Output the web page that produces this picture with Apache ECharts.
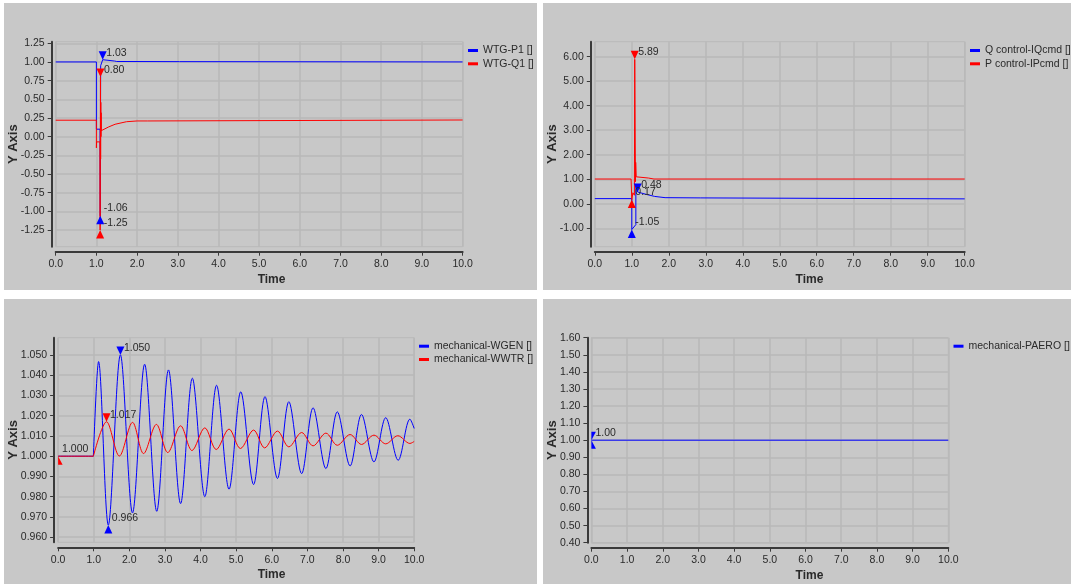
<!DOCTYPE html>
<html>
<head>
<meta charset="utf-8">
<script src="https://cdn.jsdelivr.net/npm/echarts@6/dist/echarts.min.js"></script>
<style>
html,body{margin:0;padding:0;background:#ffffff;}
#c{width:1071px;height:585px;}
</style>
</head>
<body>
<div id="c"></div>
<script>
// ---------------- DATA ----------------
// Panel 1
const p1Names = ['WTG-P1 []', 'WTG-Q1 []'];
const p1P1Time = [0, 1.0, 1.0, 1.09, 1.095, 1.105, 1.155, 1.2, 1.45, 1.5, 3.04, 3.06, 10];
const p1P1Val  = [1.0, 1.0, 0.10, 0.10, -1.06, 0.95, 1.03, 1.017, 1.012, 1.006, 1.004, 1.0, 1.0];
const p1Q1Time = [0, 1.0, 1.0, 1.005, 1.088, 1.092, 1.10, 1.104, 1.108, 1.112, 1.116, 1.12, 1.16, 1.3, 1.46, 1.74, 2.0, 2.25, 2.27, 10];
const p1Q1Val  = [0.22, 0.22, -0.15, -0.07, -0.07, -1.25, 0.80, -0.3, 0.46, 0.0, 0.32, 0.08, 0.09, 0.13, 0.166, 0.20, 0.21, 0.21, 0.223, 0.223];
const p1P1Max = [1.155, 1.03];
const p1P1Min = [1.095, -1.06];
const p1Q1Max = [1.10, 0.80];
const p1Q1Min = [1.092, -1.25];
const p1YTicks = [-1.25, -1.0, -0.75, -0.5, -0.25, 0, 0.25, 0.5, 0.75, 1.0, 1.25];

// Panel 2
const p2Names = ['Q control-IQcmd []', 'P control-IPcmd []'];
const p2IQTime = [0, 1.0, 1.0, 1.11, 1.11, 1.13, 1.16, 1.2, 1.4, 1.62, 1.9, 2.85, 2.87, 10];
const p2IQVal  = [0.21, 0.21, -1.05, -0.85, 0.78, 0.78, 0.48, 0.47, 0.38, 0.30, 0.25, 0.24, 0.20, 0.20];
const p2IPTime = [0, 0.98, 1.0, 1.03, 1.07, 1.08, 1.10, 1.105, 1.12, 1.13, 1.15, 1.45, 1.6, 10];
const p2IPVal  = [1.01, 1.01, 0.17, 0.45, 0.35, 5.89, 0.9, 1.69, 1.1, 1.12, 1.06, 1.05, 1.01, 1.01];
const p2IQMax = [1.16, 0.48];
const p2IQMin = [1.0, -1.05];
const p2IPMax = [1.08, 5.89];
const p2IPMin = [1.0, 0.17];
const p2YTicks = [-1, 0, 1, 2, 3, 4, 5, 6];

// Panel 3
const p3Names = ['mechanical-WGEN []', 'mechanical-WWTR []'];
const p3GenTime = [0, 0.99, 1.0, 1.137, 1.41, 1.75, 2.09, 2.43, 2.77, 3.10, 3.44, 3.77, 4.12, 4.45, 4.80, 5.13, 5.49, 5.81, 6.16, 6.48, 6.84, 7.16, 7.52, 7.84, 8.20, 8.52, 8.87, 9.20, 9.55, 9.88, 10.0];
const p3GenVal  = [1.0, 1.0, 1.0, 1.0467, 0.966, 1.050, 0.972, 1.0454, 0.9728, 1.0426, 0.9766, 1.0385, 0.980, 1.035, 0.9837, 1.0318, 0.986, 1.0294, 0.989, 1.0269, 0.9914, 1.0239, 0.9939, 1.0219, 0.9952, 1.0206, 0.9972, 1.019, 0.998, 1.0183, 1.0137];
const p3WtrTime = [0, 0.99, 1.0, 1.36, 1.72, 2.09, 2.40, 2.76, 3.08, 3.44, 3.76, 4.12, 4.44, 4.80, 5.12, 5.49, 5.80, 6.16, 6.48, 6.84, 7.16, 7.52, 7.84, 8.20, 8.52, 8.87, 9.20, 9.54, 9.88, 10.0];
const p3WtrVal  = [1.0, 1.0, 1.0, 1.017, 1.0001, 1.0167, 1.0013, 1.0157, 1.0018, 1.015, 1.0028, 1.014, 1.0033, 1.0134, 1.0038, 1.0129, 1.0041, 1.0124, 1.0046, 1.0117, 1.0051, 1.0114, 1.0054, 1.0107, 1.0058, 1.0104, 1.0061, 1.0101, 1.0063, 1.0073];
const p3GenMax = [1.75, 1.050];
const p3GenMin = [1.41, 0.966];
const p3WtrMax = [1.36, 1.017];
const p3WtrMin = [0, 1.000];
const p3YTicks = [0.96, 0.97, 0.98, 0.99, 1.0, 1.01, 1.02, 1.03, 1.04, 1.05];

// Panel 4
const p4Names = ['mechanical-PAERO []'];
const p4Time = [0, 10];
const p4Val  = [1.0, 1.0];
const p4Max = [0, 1.00];
const p4Min = [0, 1.00];
const p4YTicks = [0.4, 0.5, 0.6, 0.7, 0.8, 0.9, 1.0, 1.1, 1.2, 1.3, 1.4, 1.5, 1.6];

// ---------------- STYLE ----------------
const FONT = "'Liberation Sans', Arial, sans-serif";
const BLUE = '#0000ff', RED = '#ff0000';
const PANEL_BG = '#c8c8c8', GRID_C = '#b9b9b9', AXIS_C = '#3a3a3a', TXT = '#2a2a2a';
const TICK_FS = 10.5;

const panels = [
  {x: 4, y: 3, w: 533, h: 287},
  {x: 543, y: 3, w: 528, h: 287},
  {x: 4, y: 299, w: 533, h: 285},
  {x: 543, y: 299, w: 528, h: 285}
];
const grids = [
  {left: 55.7, top: 41.7, width: 406.9, height: 205},
  {left: 594.8, top: 41.7, width: 369.9, height: 205},
  {left: 58.1, top: 337.7, width: 356.1, height: 204.6},
  {left: 591.4, top: 337.7, width: 356.9, height: 205}
];
const yRanges = [[-1.473, 1.271], [-1.75, 6.61], [0.9575, 1.0585], [0.4, 1.6]];
const yTicksAll = [p1YTicks, p2YTicks, p3YTicks, p4YTicks];
const yDec = [2, 2, 3, 2];
const yNameGap = [32, 31.4, 34.5, 28.7];
const timeShift = [12.4, 29.7, 35.4, 39.6];
const legendPos = [{left: 468, top: 45}, {left: 970, top: 45}, {left: 419, top: 340.7}, {left: 953.5, top: 340.7}];
const legendNames = [p1Names, p2Names, p3Names, p4Names];

function pairs(ts, vs) { return ts.map((t, i) => [t, vs[i]]); }

const DOWN = 'path://M0,0L2,0L1,2Z';
const DOWN_HALF = 'path://M0,0L1,0L0,2Z';
const UP_HALF = 'path://M0,0L1,2L0,2Z';

function mark(pt, kind, dec, color, half, showLabel) {
  const down = kind === 'max';
  let symbol, size, off;
  if (half) {
    symbol = down ? DOWN_HALF : UP_HALF;
    size = [4.5, 8.5];
    off = [2.25, down ? -4.25 : 4.25];
  } else {
    symbol = down ? DOWN : 'triangle';
    size = [8, 8.5];
    off = [0, down ? -4.25 : 4.25];
  }
  return {
    coord: [pt[0], pt[1]],
    value: pt[1].toFixed(dec),
    symbol: symbol,
    symbolSize: size,
    symbolOffset: off,
    itemStyle: {color: color},
    label: {
      show: showLabel !== false,
      position: 'right',
      distance: 0,
      offset: [-0.5, down ? -2.5 : -11.5],
      formatter: '{c}',
      fontFamily: FONT, fontSize: TICK_FS, color: TXT
    }
  };
}

function lineSeries(name, idx, ts, vs, color, marks, smooth) {
  return {
    type: 'line', name: name, xAxisIndex: idx, yAxisIndex: idx,
    data: pairs(ts, vs),
    showSymbol: false, symbol: 'none',
    smooth: smooth || false,
    lineStyle: {width: 1, color: color},
    itemStyle: {color: color},
    emphasis: {disabled: true},
    animation: false,
    markPoint: {animation: false, data: marks}
  };
}

const series = [
  lineSeries(p1Names[0], 0, p1P1Time, p1P1Val, BLUE, [mark(p1P1Max, 'max', 2, BLUE), mark(p1P1Min, 'min', 2, BLUE)]),
  lineSeries(p1Names[1], 0, p1Q1Time, p1Q1Val, RED, [mark(p1Q1Max, 'max', 2, RED), mark(p1Q1Min, 'min', 2, RED)]),
  lineSeries(p2Names[0], 1, p2IQTime, p2IQVal, BLUE, [mark(p2IQMax, 'max', 2, BLUE), mark(p2IQMin, 'min', 2, BLUE)]),
  lineSeries(p2Names[1], 1, p2IPTime, p2IPVal, RED, [mark(p2IPMax, 'max', 2, RED), mark(p2IPMin, 'min', 2, RED)]),
  lineSeries(p3Names[0], 2, p3GenTime, p3GenVal, BLUE, [mark(p3GenMax, 'max', 3, BLUE), mark(p3GenMin, 'min', 3, BLUE)], 0.33),
  lineSeries(p3Names[1], 2, p3WtrTime, p3WtrVal, RED, [mark(p3WtrMax, 'max', 3, RED), mark(p3WtrMin, 'min', 3, RED, true)], 0.33),
  lineSeries(p4Names[0], 3, p4Time, p4Val, BLUE, [mark(p4Max, 'max', 2, BLUE, true), mark(p4Min, 'min', 2, BLUE, true, false)])
];

const xAxes = [], yAxes = [], gridOpts = [], legends = [];
for (let i = 0; i < 4; i++) {
  gridOpts.push(Object.assign({show: true, borderWidth: 1, borderColor: GRID_C, backgroundColor: 'transparent', containLabel: false, outerBoundsMode: 'none'}, grids[i]));
  xAxes.push({
    type: 'value', gridIndex: i, min: 0, max: 10, interval: 1, offset: 5,
    axisLine: {show: true, onZero: false, lineStyle: {color: AXIS_C, width: 2}},
    axisTick: {show: true, length: 4, lineStyle: {color: AXIS_C, width: 1}},
    axisLabel: {show: true, margin: 7, fontFamily: FONT, fontSize: TICK_FS, color: TXT, formatter: v => v.toFixed(1)},
    splitLine: {show: true, lineStyle: {color: GRID_C, width: 1.5}},
    name: 'Time', nameLocation: 'middle', nameGap: 21.5, nameMoveOverlap: false,
    nameTextStyle: {fontFamily: FONT, fontSize: 12, fontWeight: 'bold', color: TXT, padding: [0, 0, 0, timeShift[i] * 2]}
  });
  yAxes.push({
    type: 'value', gridIndex: i, min: yRanges[i][0], max: yRanges[i][1], offset: 4,
    axisLine: {show: true, onZero: false, lineStyle: {color: AXIS_C, width: 2}},
    axisTick: {show: true, length: 4, customValues: yTicksAll[i], lineStyle: {color: AXIS_C, width: 1}},
    axisLabel: {show: true, margin: 7, customValues: yTicksAll[i], fontFamily: FONT, fontSize: TICK_FS, color: TXT,
      formatter: (function (d) { return v => Number(v).toFixed(d); })(yDec[i])},
    splitLine: {show: true, lineStyle: {color: GRID_C, width: 1.5}},
    name: 'Y Axis', nameLocation: 'middle', nameGap: yNameGap[i], nameMoveOverlap: false,
    nameTextStyle: {fontFamily: FONT, fontSize: 13, fontWeight: 'bold', color: TXT}
  });
  legends.push({
    show: true, orient: 'vertical', left: legendPos[i].left, top: legendPos[i].top,
    padding: 0, itemGap: 2.3, icon: 'rect', itemWidth: 10, itemHeight: 3,
    selectedMode: false,
    textStyle: {fontFamily: FONT, fontSize: 10.5, color: TXT},
    data: legendNames[i]
  });
}

const graphics = panels.map(p => ({
  type: 'rect', z: -10, silent: true,
  shape: {x: p.x, y: p.y, width: p.w, height: p.h},
  style: {fill: PANEL_BG}
}));

const chart = echarts.init(document.getElementById('c'), null, {renderer: 'canvas'});
chart.setOption({
  backgroundColor: '#ffffff',
  animation: false,
  graphic: graphics,
  grid: gridOpts,
  xAxis: xAxes,
  yAxis: yAxes,
  legend: legends,
  series: series
});
</script>
</body>
</html>
